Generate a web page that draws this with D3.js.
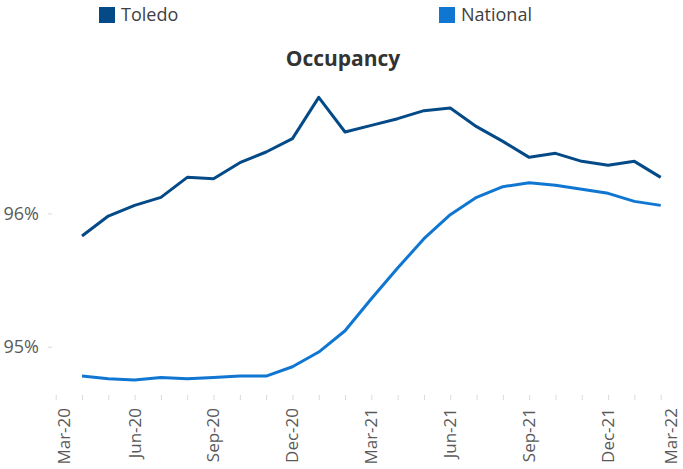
<!DOCTYPE html>
<html>
<head>
<meta charset="utf-8">
<script src="https://cdn.jsdelivr.net/npm/d3@7.9.0/dist/d3.min.js"></script>
<style>
  body { margin: 0; background: #fff; }
  svg { display: block; font-family: "Open Sans", sans-serif; }
</style>
</head>
<body>
<svg width="683" height="469"></svg>
<script>
// data (occupancy, %)
const months = ["Apr-20", "May-20", "Jun-20", "Jul-20", "Aug-20", "Sep-20", "Oct-20", "Nov-20",
  "Dec-20", "Jan-21", "Feb-21", "Mar-21", "Apr-21", "May-21", "Jun-21", "Jul-21", "Aug-21",
  "Sep-21", "Oct-21", "Nov-21", "Dec-21", "Jan-22", "Feb-22"];
const toledo = [95.83, 95.98, 96.06, 96.12, 96.27, 96.26, 96.38, 96.46, 96.56, 96.87, 96.61, 96.66,
  96.71, 96.77, 96.79, 96.65, 96.54, 96.42, 96.45, 96.39, 96.36, 96.39, 96.27];
const national = [94.78, 94.76, 94.75, 94.77, 94.76, 94.77, 94.78, 94.78, 94.85, 94.96, 95.12, 95.36,
  95.59, 95.81, 95.99, 96.12, 96.20, 96.23, 96.21, 96.18, 96.15, 96.09, 96.06];
const xTickLabels = ["Mar-20", "Jun-20", "Sep-20", "Dec-20", "Mar-21", "Jun-21", "Sep-21", "Dec-21", "Mar-22"];
const yTicks = [95, 96];

const seriesNames = ["Toledo", "National"];
const colors = ["#034a87", "#0f76d1"];

const parse = d3.timeParse("%b-%y");
const start = parse("Mar-20");
const monthIdx = s => d3.timeMonth.count(start, parse(s));

const svg = d3.select("svg");

const x = d3.scaleLinear().domain([0, 24]).range([55.7, 687]);
const y = d3.scaleLinear().domain([94.638, 97]).range([395, 80]);

// y axis: labels + small ticks, no domain line
const yAxis = svg.append("g")
  .attr("transform", "translate(52,0)")
  .call(d3.axisLeft(y).tickValues(yTicks).tickSize(4).tickPadding(9).tickFormat(d => d + "%"));
yAxis.select(".domain").remove();
yAxis.selectAll("line").attr("stroke", "#d9d9d9");
yAxis.selectAll("text").attr("fill", "#595959").style("font-size", "18px")
  .style("font-family", "'Open Sans', sans-serif");

// x axis: monthly minor ticks, labels every 3 months
const xAxis = svg.append("g")
  .attr("transform", "translate(0,395)")
  .call(d3.axisBottom(x).tickValues(d3.range(0, 25)).tickSize(5).tickFormat(""));
xAxis.select(".domain").remove();
xAxis.selectAll("line").attr("stroke", "#d9d9d9");

// edge labels are pulled inside the window, as in the original
svg.append("g")
  .selectAll("text")
  .data(xTickLabels)
  .join("text")
  .attr("transform", d => {
    const px = Math.min(Math.max(x(monthIdx(d)), 64), 671);
    return `translate(${px},408) rotate(-90)`;
  })
  .attr("text-anchor", "end")
  .attr("dy", "0.35em")
  .attr("fill", "#595959")
  .style("font-size", "17px")
  .text(d => d);

// lines
const line = d3.line()
  .x((d, i) => x(monthIdx(months[i])))
  .y(d => y(d));

[toledo, national].forEach((vals, k) => {
  svg.append("path")
    .datum(vals)
    .attr("fill", "none")
    .attr("stroke", colors[k])
    .attr("stroke-width", 3)
    .attr("stroke-linejoin", "round")
    .attr("d", line);
});

// title
svg.append("text")
  .attr("x", 343)
  .attr("y", 66)
  .attr("text-anchor", "middle")
  .attr("fill", "#333")
  .style("font-size", "21px")
  .style("font-weight", "bold")
  .text("Occupancy");

// legend
const legendX = [99, 439];
const legend = svg.append("g")
  .selectAll("g")
  .data(seriesNames)
  .join("g")
  .attr("transform", (d, i) => `translate(${legendX[i]},7)`);
legend.append("rect")
  .attr("width", 16)
  .attr("height", 16)
  .attr("fill", (d, i) => colors[i]);
legend.append("text")
  .attr("x", 22)
  .attr("y", 14)
  .attr("fill", "#404040")
  .style("font-size", "18px")
  .text(d => d);
</script>
</body>
</html>
